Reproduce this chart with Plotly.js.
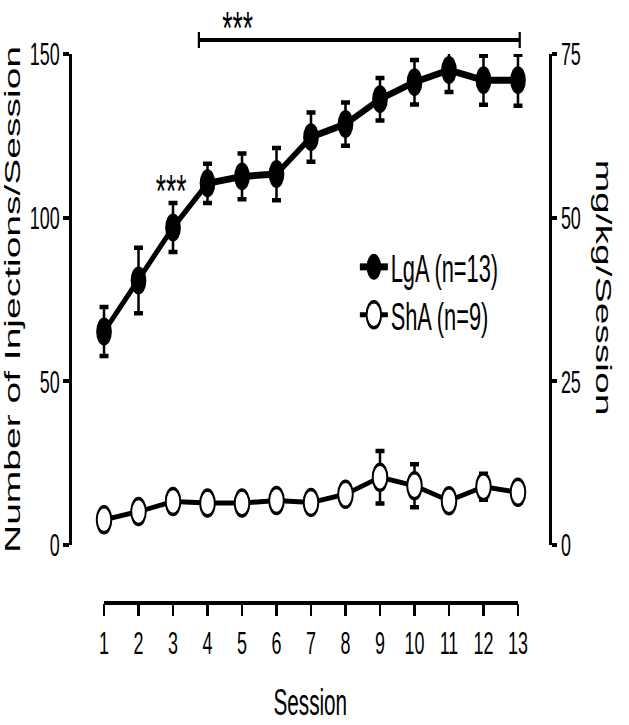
<!DOCTYPE html>
<html>
<head>
<meta charset="utf-8">
<script src="https://cdn.plot.ly/plotly-3.0.1.min.js"></script>
<style>
  html, body { margin: 0; padding: 0; background: #ffffff; overflow: hidden; }
  #wrap { width: 629px; height: 725px; overflow: hidden; position: relative; background: #fff; }
  #chart { width: 1123px; height: 725px; transform: scaleX(0.5601); transform-origin: 0 0; }
</style>
</head>
<body>
<div id="wrap"><div id="chart"></div></div>
<script>
// ---- data ----
const sessions = [1, 2, 3, 4, 5, 6, 7, 8, 9, 10, 11, 12, 13];
const lgaMean  = [65.2, 80.8, 97.0, 110.5, 112.6, 113.3, 124.6, 128.6, 136.2, 141.4, 145.1, 142.0, 142.0];
const lgaSem   = [7.5, 10.0, 7.5, 6.0, 7.0, 8.0, 7.5, 6.6, 6.5, 6.8, 6.7, 7.5, 7.8];
const shaMean  = [7.7, 10.2, 13.3, 12.8, 12.8, 13.6, 13.0, 15.5, 20.7, 18.1, 13.5, 17.8, 16.1];
const shaSem   = [1.5, 2.0, 2.0, 1.5, 1.5, 1.5, 1.5, 2.0, 8.0, 6.6, 2.0, 4.0, 2.0];
const seriesNames = ['LgA (n=13)', 'ShA (n=9)'];
const leftTicks  = [0, 50, 100, 150];
const rightTicks = [0, 25, 50, 75];
const mgPerInjection = 0.5;          // right axis: mg/kg = injections x 0.5
const leftTitle  = 'Number of Injections/Session';
const rightTitle = 'mg/kg/Session';
const xTitle     = 'Session';
const sigBracket = [3.75, 13.05];   // sessions 4-13 bracket
const sigLabel   = '***';

const FONT = '"Liberation Sans", Arial, Helvetica, sans-serif';

const traces = [
  {
    x: sessions, y: lgaMean, name: seriesNames[0], type: 'scatter', mode: 'lines+markers',
    legend: 'legend',
    line: { color: '#000', width: 7 },
    marker: { symbol: 'circle', size: 28, color: '#000', line: { width: 0 } },
    error_y: { type: 'data', array: lgaSem, visible: true, color: '#000', thickness: 4.5, width: 8 },
    cliponaxis: false
  },
  {
    x: sessions, y: shaMean, name: seriesNames[1], type: 'scatter', mode: 'lines+markers',
    legend: 'legend2',
    line: { color: '#000', width: 5 },
    marker: { symbol: 'circle', size: 26, color: '#fff', line: { color: '#000', width: 3.5 } },
    error_y: { type: 'data', array: shaSem, visible: true, color: '#000', thickness: 4.5, width: 8 },
    cliponaxis: false
  },
  // same LgA series expressed in mg/kg on the right axis (draws nothing, only carries the axis)
  {
    x: sessions, y: lgaMean.map(v => v * mgPerInjection), yaxis: 'y2', type: 'scatter', mode: 'none',
    showlegend: false, hoverinfo: 'skip'
  }
];

const yDomain = [0.0995, 0.9417];
const legendStyle = {
  xanchor: 'left', yanchor: 'top',
  font: { family: FONT, size: 39, color: '#000' },
  itemwidth: 50, bgcolor: 'rgba(0,0,0,0)', borderwidth: 0
};

const layout = {
  width: 1123, height: 725,
  margin: { l: 128, r: 143, t: 20, b: 122 },
  paper_bgcolor: '#ffffff', plot_bgcolor: 'rgba(0,0,0,0)',
  font: { family: FONT, color: '#000', size: 32 },
  hovermode: false,
  showlegend: true,
  legend: Object.assign({ x: 0.598, y: 0.6312 }, legendStyle),
  legend2: Object.assign({ x: 0.598, y: 0.549 }, legendStyle),
  xaxis: {
    range: [0.063, 13.896], anchor: 'free', position: 0,
    showline: false, showgrid: false, zeroline: false,
    ticks: 'outside', ticklen: 12, tickwidth: 4, tickcolor: '#000',
    tickvals: sessions, ticktext: sessions.map(String),
    tickfont: { family: FONT, size: 32, color: '#000' },
    title: { text: xTitle, font: { family: FONT, size: 37, color: '#000' }, standoff: 28 },
    automargin: false
  },
  yaxis: {
    domain: yDomain, range: [0, 150], showline: true, linewidth: 5, linecolor: '#000',
    ticks: 'outside', ticklen: 10, tickwidth: 4, tickcolor: '#000',
    tickvals: leftTicks, ticktext: leftTicks.map(String), showgrid: false, zeroline: false,
    tickfont: { family: FONT, size: 32, color: '#000' },
    title: { text: leftTitle, font: { family: FONT, size: 39, color: '#000' }, standoff: 8 },
    automargin: false
  },
  yaxis2: {
    domain: yDomain, range: [0, 75], overlaying: 'y', side: 'right', anchor: 'x',
    showline: true, linewidth: 5, linecolor: '#000',
    ticks: 'outside', ticklen: 10, tickwidth: 4, tickcolor: '#000',
    tickvals: rightTicks, ticktext: rightTicks.map(String), showgrid: false, zeroline: false,
    tickfont: { family: FONT, size: 32, color: '#000' },
    automargin: false
  },
  shapes: [
    // x axis line spanning sessions 1..13
    { type: 'line', xref: 'x', yref: 'paper', x0: sessions[0], x1: sessions[sessions.length - 1], y0: 0, y1: 0,
      line: { color: '#000', width: 4 } },
    // significance bracket
    { type: 'line', xref: 'x', yref: 'paper', x0: sigBracket[0], x1: sigBracket[1], y0: 0.9657, y1: 0.9657,
      line: { color: '#000', width: 4 } },
    { type: 'line', xref: 'x', yref: 'paper', x0: sigBracket[0], x1: sigBracket[0], y0: 0.952, y1: 0.9794,
      line: { color: '#000', width: 4 } },
    { type: 'line', xref: 'x', yref: 'paper', x0: sigBracket[1], x1: sigBracket[1], y0: 0.952, y1: 0.9794,
      line: { color: '#000', width: 4 } }
  ],
  annotations: [
    { text: sigLabel, xref: 'x', yref: 'paper', x: 4.88, y: 0.987, showarrow: false,
      xanchor: 'center', yanchor: 'middle', font: { family: FONT, size: 47, color: '#000' } },
    { text: sigLabel, xref: 'x', yref: 'paper', x: 2.94, y: 0.7067, showarrow: false,
      xanchor: 'center', yanchor: 'middle', font: { family: FONT, size: 47, color: '#000' } },
    { text: rightTitle, xref: 'paper', yref: 'paper', x: 1.1155, y: 0.5403, showarrow: false,
      textangle: 90, xanchor: 'center', yanchor: 'middle', font: { family: FONT, size: 39, color: '#000' } }
  ]
};

// enlarge legend symbols to match the plotted marker size (the legend caps them at 16px)
function enlargeLegendSymbols(gd) {
  const radii = [14, 13];
  const groups = gd.querySelectorAll('g.legendpoints');
  groups.forEach(function (lp) {
    const item = lp.parentNode;
    const t = item ? item.querySelector('text.legendtext') : null;
    const idx = t ? seriesNames.indexOf(t.textContent) : -1;
    const r = idx >= 0 ? radii[idx] : 13;
    lp.querySelectorAll('path').forEach(function (p) {
      if (p.classList.contains('js-line')) return;
      const d = p.getAttribute('d') || '';
      if (d.indexOf('A') < 0) return;   // only circle markers
      p.setAttribute('d', 'M' + r + ',0A' + r + ',' + r + ' 0 1,1 0,-' + r + 'A' + r + ',' + r + ' 0 0,1 ' + r + ',0Z');
    });
  });
}

const gdEl = document.getElementById('chart');
Plotly.newPlot(gdEl, traces, layout, { staticPlot: true, displayModeBar: false, responsive: false })
  .then(function (gd) {
    enlargeLegendSymbols(gd);
    gd.on('plotly_afterplot', function () { enlargeLegendSymbols(gd); });
    requestAnimationFrame(function () { enlargeLegendSymbols(gd); });
    setTimeout(function () { enlargeLegendSymbols(gd); }, 50);
  });
</script>
</body>
</html>
